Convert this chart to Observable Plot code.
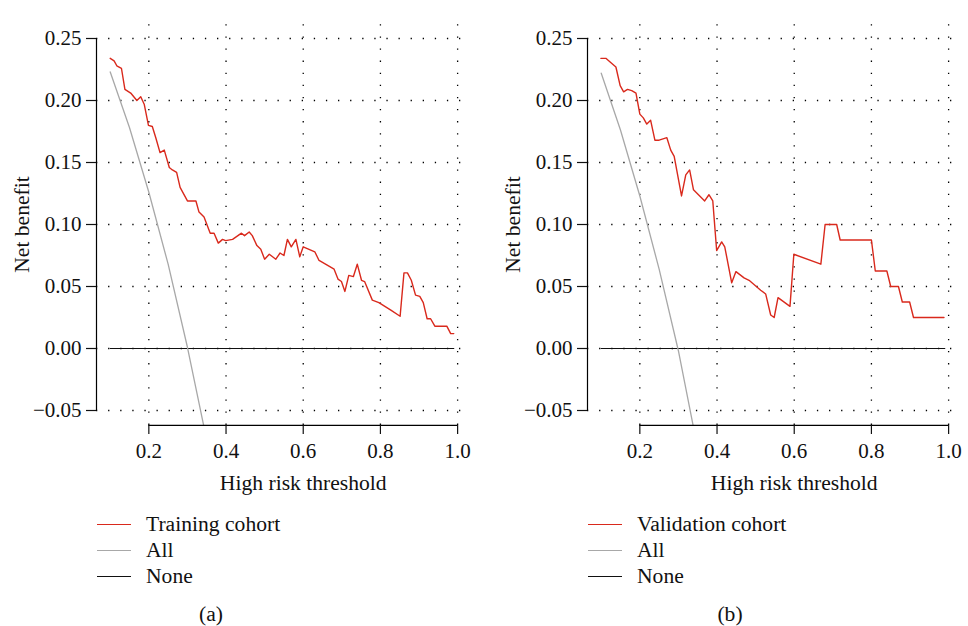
<!DOCTYPE html>
<html><head><meta charset="utf-8">
<script src="https://cdn.jsdelivr.net/npm/d3@7"></script>
<script src="https://cdn.jsdelivr.net/npm/@observablehq/plot@0.6"></script>
<style>
html,body{margin:0;padding:0;background:#fff;}
body{font-family:"Liberation Serif","DejaVu Serif",serif;color:#111;}
#wrap{position:relative;width:968px;height:626px;overflow:hidden;}
.panel{position:absolute;top:0;}
.legend{position:absolute;font-size:21.6px;}
.row{display:flex;align-items:center;height:26px;line-height:26px;}
.sw{width:34px;height:0;margin-right:15px;}
.cap{position:absolute;font-size:21.6px;width:60px;text-align:center;line-height:26px;}
</style></head><body>
<div id="wrap">
  <div id="pa" class="panel" style="left:0"></div>
  <div id="pb" class="panel" style="left:491px"></div>
  <div id="la" class="legend" style="left:97px;top:511px"></div>
  <div id="lb" class="legend" style="left:588px;top:511px"></div>
  <div class="cap" style="left:181px;top:601px">(a)</div>
  <div class="cap" style="left:700px;top:601px">(b)</div>
</div>
<script>
// ---- data ----
const xTicks = [0.2, 0.4, 0.6, 0.8, 1.0];
const yTicks = [-0.05, 0, 0.05, 0.10, 0.15, 0.20, 0.25];

const trainX = [0.100,0.110,0.117,0.129,0.138,0.153,0.169,0.179,0.188,0.199,0.209,0.218,0.229,0.240,0.253,0.261,0.272,0.281,0.300,0.322,0.330,0.343,0.359,0.369,0.380,0.391,0.399,0.417,0.440,0.448,0.460,0.468,0.480,0.490,0.500,0.512,0.529,0.540,0.550,0.559,0.569,0.581,0.591,0.600,0.630,0.641,0.680,0.690,0.699,0.708,0.718,0.730,0.740,0.751,0.759,0.779,0.796,0.827,0.851,0.861,0.870,0.880,0.891,0.902,0.911,0.921,0.930,0.941,0.972,0.982,0.990];
const trainY = [0.234,0.232,0.228,0.226,0.209,0.206,0.200,0.203,0.197,0.180,0.179,0.170,0.158,0.160,0.146,0.144,0.142,0.130,0.119,0.119,0.110,0.106,0.093,0.093,0.085,0.088,0.087,0.088,0.093,0.091,0.094,0.091,0.083,0.080,0.072,0.076,0.072,0.077,0.075,0.088,0.082,0.088,0.074,0.082,0.078,0.071,0.064,0.056,0.054,0.046,0.059,0.058,0.068,0.055,0.054,0.039,0.037,0.031,0.026,0.061,0.061,0.055,0.043,0.042,0.037,0.024,0.024,0.018,0.018,0.012,0.012];

const validX = [0.099,0.112,0.123,0.138,0.149,0.158,0.168,0.179,0.190,0.200,0.209,0.218,0.228,0.239,0.250,0.270,0.280,0.289,0.308,0.319,0.329,0.339,0.368,0.379,0.389,0.399,0.412,0.420,0.438,0.449,0.470,0.483,0.513,0.526,0.539,0.548,0.558,0.589,0.599,0.669,0.680,0.710,0.719,0.800,0.810,0.840,0.850,0.870,0.880,0.899,0.909,0.988];
const validY = [0.234,0.234,0.231,0.227,0.212,0.207,0.209,0.208,0.206,0.189,0.186,0.181,0.184,0.168,0.168,0.170,0.160,0.155,0.123,0.140,0.144,0.128,0.119,0.124,0.119,0.079,0.086,0.082,0.053,0.062,0.057,0.055,0.047,0.044,0.027,0.025,0.041,0.034,0.076,0.068,0.100,0.100,0.0875,0.0875,0.0625,0.0625,0.05,0.05,0.0375,0.0375,0.025,0.025];

const allTrainX = [0.10, 0.15, 0.20, 0.25, 0.30, 0.342];
const allTrainY = [0.223, 0.178, 0.126, 0.068, 0.001, -0.062];
const allValidX = [0.10, 0.15, 0.20, 0.25, 0.30, 0.338];
const allValidY = [0.222, 0.176, 0.123, 0.064, -0.002, -0.062];

const noneX = [0.10, 0.99];
const noneY = [0, 0];

const xLabel = "High risk threshold";
const yLabel = "Net benefit";

// plotting region (R-style, data range expanded by 4%)
const XLO = 0.0644, XHI = 1.0256;
const YLO = -0.062, YHI = 0.268;

const RED = "#d9291c", GREY = "#a8a8a8", BLACK = "#111";
const zip = (xs, ys) => xs.map((x, i) => ({x, y: ys[i]}));

function panel(cx, cy, ax, ay, w) {
  const curve = zip(cx, cy), all = zip(ax, ay), none = zip(noneX, noneY);
  return Plot.plot({
    width: w, height: 500,
    marginLeft: 96, marginRight: w - 467, marginTop: 23, marginBottom: 75,
    x: {domain: [XLO, XHI]},
    y: {domain: [-0.05, 0.25], range: [410, 38]},
    style: {fontFamily: '"Liberation Serif","DejaVu Serif",serif', fontSize: "21px", color: "#111", background: "transparent", overflow: "visible"},
    marks: [
      Plot.ruleY(yTicks, {x1: XLO, x2: XHI, stroke: "#000", strokeWidth: 1.3, strokeDasharray: "1.3,10.8"}),
      Plot.ruleX(xTicks, {y1: YLO, y2: YHI, stroke: "#000", strokeWidth: 1.3, strokeDasharray: "1.3,10.8"}),
      Plot.line(none, {x: "x", y: "y", stroke: BLACK, strokeWidth: 1.2}),
      Plot.line(all, {x: "x", y: "y", stroke: GREY, strokeWidth: 1.3}),
      Plot.line(curve, {x: "x", y: "y", stroke: RED, strokeWidth: 1.4}),
      Plot.ruleX([XLO], {y1: d3.min(yTicks), y2: d3.max(yTicks), stroke: "#000", strokeWidth: 1.2}),
      Plot.ruleY([YLO], {x1: d3.min(xTicks), x2: d3.max(xTicks), stroke: "#000", strokeWidth: 1.2}),
      Plot.axisY({ticks: yTicks, tickSize: 10, tickPadding: 5, tickFormat: d3.format(".2f"), label: null, strokeWidth: 1.2}),
      Plot.axisX({ticks: xTicks, tickSize: 9, tickPadding: 9, tickFormat: d3.format(".1f"), label: null, strokeWidth: 1.2}),
      Plot.text([yLabel], {x: XLO, y: d3.mean(yTicks), dx: -74, rotate: -90, text: d => d, fontSize: 21.6}),
      Plot.text([xLabel], {x: d3.mean(xTicks), y: YLO, dy: 58, text: d => d, fontSize: 21.6})
    ]
  });
}

document.getElementById("pa").append(panel(trainX, trainY, allTrainX, allTrainY, 491));
document.getElementById("pb").append(panel(validX, validY, allValidX, allValidY, 477));

function legend(id, name) {
  const el = document.getElementById(id);
  [[name, RED], ["All", GREY], ["None", BLACK]].forEach(([t, c]) => {
    const r = document.createElement("div"); r.className = "row";
    const s = document.createElement("div"); s.className = "sw"; s.style.borderTop = `1.5px solid ${c}`;
    const l = document.createElement("span"); l.textContent = t;
    r.append(s, l); el.append(r);
  });
}
legend("la", "Training cohort");
legend("lb", "Validation cohort");
</script>
</body></html>
